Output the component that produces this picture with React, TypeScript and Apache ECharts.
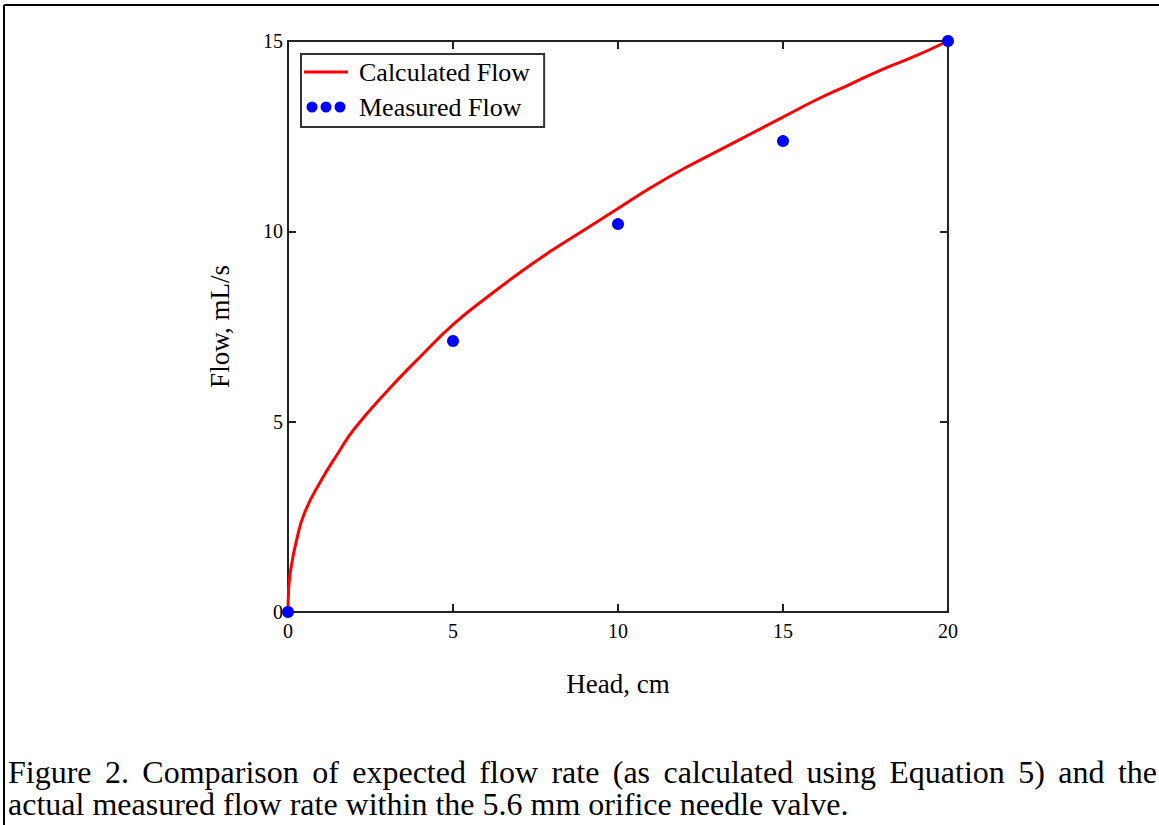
import React, { useEffect, useRef } from "react";
import * as echarts from "echarts";

// Calculated flow curve (Head cm -> Flow mL/s)
const headCalc = [0, 0.02, 0.05, 0.1, 0.25, 0.5, 1, 1.5, 2, 3, 4, 5, 6, 7, 8, 9, 10, 11, 12, 13, 14, 15, 16, 17, 18, 19, 20];
const flowCalc = [0, 0.6, 0.9, 1.2, 1.85, 2.6, 3.45, 4.15, 4.8, 5.8, 6.7, 7.55, 8.25, 8.9, 9.5, 10.05, 10.6, 11.15, 11.65, 12.1, 12.55, 13.0, 13.45, 13.85, 14.25, 14.6, 15.0];

// Measured flow points
const headMeas = [0, 5, 10, 15, 20];
const flowMeas = [0, 7.12, 10.19, 12.37, 15.0];

const xTicks = { min: 0, max: 20, interval: 5 };
const yTicks = { min: 0, max: 15, interval: 5 };

const captionLine1 = ["Figure", "2.", "Comparison", "of", "expected", "flow", "rate", "(as", "calculated", "using", "Equation", "5)", "and", "the"];
const captionLine2 = "actual measured flow rate within the 5.6 mm orifice needle valve.";

const FONT = "'Liberation Serif', 'Times New Roman', serif";
const CAPTION_FONT = `32px ${FONT}`;

export default function App() {
  const ref = useRef<HTMLDivElement>(null);
  useEffect(() => {
    if (!ref.current) return;
    const chart = echarts.init(ref.current, undefined, { renderer: "svg" });
    const axisColor = "#222";
    const lineIcon = "path://M0,0H44V3H0Z";
    const dotsIcon =
      "path://M0,5.5a5.5,5.5 0 1,0 11,0a5.5,5.5 0 1,0 -11,0Z" +
      "M14,5.5a5.5,5.5 0 1,0 11,0a5.5,5.5 0 1,0 -11,0Z" +
      "M28,5.5a5.5,5.5 0 1,0 11,0a5.5,5.5 0 1,0 -11,0Z";
    const baseAxis = {
      type: "value" as const,
      axisLine: { show: true, onZero: false, lineStyle: { color: axisColor, width: 2 } },
      axisTick: { show: true, inside: true, length: 8, lineStyle: { color: axisColor, width: 2 } },
      splitLine: { show: false },
    };

    // justify caption line 1 between the left and right margins
    const canvas = document.createElement("canvas");
    const ctx = canvas.getContext("2d")!;
    ctx.font = CAPTION_FONT;
    const widths = captionLine1.map((w) => ctx.measureText(w).width);
    const lineLeft = 8;
    const lineRight = 1157;
    const total = widths.reduce((a, b) => a + b, 0);
    const gap = (lineRight - lineLeft - total) / (captionLine1.length - 1);
    let cx = lineLeft;
    const caption: any[] = captionLine1.map((w, i) => {
      const el = {
        type: "text",
        x: cx,
        y: 756,
        style: { text: w, font: CAPTION_FONT, fill: "#000", textVerticalAlign: "top" },
      };
      cx += widths[i] + gap;
      return el;
    });
    caption.push({
      type: "text",
      x: 8,
      y: 788,
      style: { text: captionLine2, font: CAPTION_FONT, fill: "#000" },
    });
    chart.setOption({
      animation: false,
      backgroundColor: "#fff",
      grid: { left: 288, right: 211, top: 41, bottom: 213 },
      xAxis: [
        {
          ...baseAxis,
          ...xTicks,
          position: "bottom",
          axisLabel: { fontFamily: FONT, fontSize: 20, color: "#000", margin: 9 },
          name: "Head, cm",
          nameLocation: "middle",
          nameGap: 58,
          nameTextStyle: { fontFamily: FONT, fontSize: 27, color: "#000" },
        },
        { ...baseAxis, ...xTicks, position: "top", axisLabel: { show: false } },
      ],
      yAxis: [
        {
          ...baseAxis,
          ...yTicks,
          position: "left",
          axisLabel: { fontFamily: FONT, fontSize: 20, color: "#000", margin: 5 },
          name: "Flow, mL/s",
          nameLocation: "middle",
          nameGap: 55,
          nameTextStyle: { fontFamily: FONT, fontSize: 27, color: "#000" },
        },
        { ...baseAxis, ...yTicks, position: "right", axisLabel: { show: false } },
      ],
      legend: {
        left: 301,
        top: 54,
        orient: "vertical",
        itemWidth: 44,
        itemHeight: 11,
        itemGap: 7,
        padding: [4, 14, 6, 3],
        borderColor: "#333",
        borderWidth: 2,
        backgroundColor: "#fff",
        textStyle: { fontFamily: FONT, fontSize: 26, color: "#000", lineHeight: 28, padding: [0, 0, 0, 6] },
        data: [
          { name: "Calculated Flow", icon: lineIcon },
          { name: "Measured Flow", icon: dotsIcon },
        ],
      },
      series: [
        {
          name: "Calculated Flow",
          type: "line",
          data: headCalc.map((h, i) => [h, flowCalc[i]]),
          showSymbol: false,
          smooth: true,
          lineStyle: { color: "#ff0000", width: 3 },
          itemStyle: { color: "#ff0000" },
          clip: true,
        },
        {
          name: "Measured Flow",
          type: "scatter",
          data: headMeas.map((h, i) => [h, flowMeas[i]]),
          symbolSize: 12,
          itemStyle: { color: "#0000ff", opacity: 1 },
          clip: true,
          z: 3,
        },
      ],
      graphic: [
        { type: "line", shape: { x1: 4, y1: 5, x2: 1159, y2: 5 }, style: { stroke: "#000", lineWidth: 2 } },
        { type: "line", shape: { x1: 4, y1: 5, x2: 4, y2: 825 }, style: { stroke: "#000", lineWidth: 2 } },
        ...caption,
      ],
    });
    return () => chart.dispose();
  }, []);
  return (
    <div
      ref={ref}
      style={{ position: "fixed", left: 0, top: 0, width: 1159, height: 825, background: "#fff" }}
    />
  );
}
